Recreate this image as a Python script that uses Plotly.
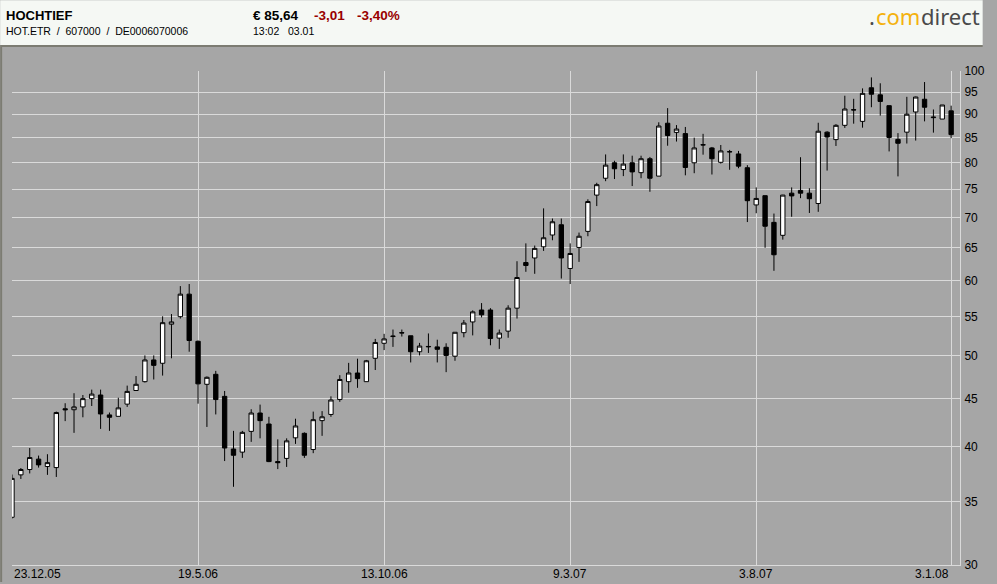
import numpy as np
import pandas as pd
import plotly.graph_objects as go

# weekly candles HOCHTIEF, 23.12.05 - 3.1.08
dates = pd.date_range("2005-12-23", periods=107, freq="7D")

opens = [33.7, 37.37, 37.86, 38.83, 38.14, 38.04, 43.9, 43.8, 44.1, 45.0,
         45.4, 43.25, 43.1, 44.4, 45.9, 46.9, 49.45, 49.05, 53.95, 54.95,
         58.05, 51.75, 46.6, 47.75, 45.25, 39.8, 39.5, 41.55, 43.45, 42.3,
         38.6, 38.9, 40.9, 41.35, 39.75, 42.65, 43.3, 44.9, 46.9, 47.9,
         46.9, 49.65, 51.5, 52.35, 52.8, 52.45, 50.45, 51.05, 51.05, 51.0,
         49.9, 52.85, 54.25, 55.85, 55.85, 52.15, 53.05, 56.1, 62.7, 63.4,
         65.15, 67.05, 68.75, 61.8, 65.05, 67.65, 73.9, 77.0, 79.95, 78.65,
         79.95, 78.05, 80.75, 77.4, 88.05, 86.1, 85.85, 79.95, 83.5, 82.9,
         80.05, 82.1, 81.7, 79.0, 72.15, 73.8, 69.15, 67.0, 74.25, 74.75,
         74.25, 72.4, 86.15, 84.6, 87.6, 91.0, 88.45, 96.0, 94.35, 91.9,
         84.65, 86.15, 90.5, 93.35, 89.25, 88.95, 90.75]
highs = [37.4, 38.0, 39.9, 39.17, 39.3, 43.6, 44.5, 45.6, 45.4, 46.0,
         46.0, 43.5, 45.1, 46.45, 47.55, 50.0, 50.0, 55.0, 55.3, 59.2,
         59.5, 51.85, 47.5, 48.15, 45.85, 41.6, 41.6, 43.85, 44.35, 43.05,
         40.75, 40.85, 42.85, 41.45, 43.6, 43.65, 45.25, 47.65, 49.1, 49.6,
         49.45, 52.05, 52.7, 53.25, 53.25, 52.45, 51.55, 52.75, 51.95, 51.5,
         52.9, 54.5, 55.8, 56.8, 56.1, 53.25, 56.5, 62.9, 65.7, 65.35,
         71.55, 69.8, 69.8, 65.7, 67.45, 73.15, 76.15, 81.6, 80.35, 81.6,
         81.35, 81.35, 81.1, 88.25, 91.35, 87.65, 87.25, 85.0, 85.8, 83.1,
         83.5, 82.5, 82.3, 79.5, 75.3, 73.8, 70.65, 73.95, 75.3, 81.05,
         75.15, 88.15, 86.35, 87.85, 94.15, 93.45, 95.85, 98.45, 97.05, 91.9,
         85.95, 93.9, 93.95, 97.35, 91.05, 92.05, 91.9]
lows = [33.6, 37.0, 37.5, 38.04, 37.37, 37.18, 42.6, 41.4, 43.0, 44.2,
        41.8, 41.6, 43.1, 44.1, 45.9, 46.8, 47.15, 47.6, 49.65, 54.7,
        50.45, 44.45, 42.0, 43.3, 38.65, 36.3, 38.95, 40.5, 40.85, 38.55,
        37.9, 38.1, 40.3, 38.95, 39.4, 41.1, 43.05, 44.65, 45.65, 46.2,
        46.9, 48.25, 50.65, 51.05, 52.35, 49.15, 50.0, 50.3, 49.15, 48.0,
        49.35, 52.25, 52.5, 54.85, 51.25, 50.8, 52.2, 54.7, 61.3, 61.0,
        64.5, 66.2, 60.3, 59.5, 62.8, 66.85, 71.95, 76.45, 76.85, 77.4,
        75.55, 77.0, 74.5, 77.4, 83.35, 84.2, 77.55, 77.95, 81.55, 77.7,
        79.8, 78.6, 78.9, 69.2, 70.7, 65.0, 61.45, 66.3, 70.1, 73.35,
        70.75, 70.95, 78.45, 83.3, 87.05, 87.95, 87.1, 91.55, 89.7, 82.2,
        77.35, 83.8, 84.4, 88.45, 86.05, 88.95, 84.9]
closes = [37.05, 37.86, 38.98, 38.29, 38.5, 43.5, 43.8, 44.1, 45.0, 45.5,
          43.35, 43.0, 44.0, 45.8, 46.6, 49.45, 48.8, 54.15, 54.25, 58.05,
          51.85, 46.65, 47.4, 44.9, 39.9, 39.2, 41.45, 43.45, 42.65, 38.6,
          38.5, 40.6, 42.1, 39.2, 42.75, 43.05, 44.85, 47.15, 47.9, 47.25,
          49.35, 51.6, 52.05, 52.4, 52.85, 50.45, 51.15, 51.1, 50.75, 50.0,
          52.9, 54.1, 55.6, 55.2, 52.1, 52.8, 56.1, 60.45, 62.25, 64.9,
          66.6, 69.25, 63.4, 64.1, 66.85, 72.75, 75.8, 79.5, 78.8, 79.7,
          78.2, 80.75, 77.0, 87.45, 85.45, 86.8, 79.05, 82.9, 83.55, 80.75,
          82.3, 82.15, 79.3, 72.9, 73.3, 68.5, 63.9, 73.9, 73.75, 74.25,
          73.25, 86.35, 85.15, 87.6, 91.15, 90.95, 94.7, 94.5, 92.85, 85.05,
          83.85, 90.0, 93.85, 91.55, 89.35, 92.05, 85.64]

tick_idx = [0, 21, 42, 63, 84, 106]
tick_text = ["23.12.05", "19.5.06", "13.10.06", "9.3.07", "3.8.07", "3.1.08"]
y_ticks = list(range(30, 101, 5))

W, H = 997, 584
L, R, T, B = 12, 974, 71, 567
GREY = "#a6a6a6"
GRID = "#dadada"
FONT = "Liberation Sans"


def px(x):
    return (x - L) / (R - L)


def py(y):
    return (B - y) / (B - T)


fig = go.Figure(go.Candlestick(
    x=dates, open=opens, high=highs, low=lows, close=closes,
    increasing=dict(line=dict(color="black", width=1), fillcolor="white"),
    decreasing=dict(line=dict(color="black", width=1), fillcolor="black"),
    whiskerwidth=0, hoverinfo="skip",
))

fig.update_layout(
    width=W, height=H, autosize=False,
    margin=dict(l=L, r=W - R, t=T, b=H - B, pad=0),
    paper_bgcolor=GREY, plot_bgcolor=GREY,
    showlegend=False,
    xaxis=dict(
        type="date",
        range=[dates[0], dates[0] + pd.Timedelta(days=749)],
        tickvals=[dates[i] for i in tick_idx],
        showticklabels=False, ticks="",
        showgrid=True, gridcolor=GRID, gridwidth=1,
        showline=True, linecolor=GRID, linewidth=1,
        zeroline=False, rangeslider=dict(visible=False), fixedrange=True,
    ),
    yaxis=dict(
        type="log", side="right",
        range=[np.log10(30), np.log10(100)],
        tickvals=y_ticks, ticktext=[str(v) for v in y_ticks],
        tickfont=dict(family=FONT, size=12, color="black"),
        ticks="", ticklabelstandoff=1,
        showgrid=True, gridcolor=GRID, gridwidth=1,
        showline=True, linecolor=GRID, linewidth=1,
        zeroline=False, fixedrange=True,
    ),
)

# header band, separator and left frame
fig.add_shape(type="rect", xref="paper", yref="paper",
              x0=px(0), x1=px(W), y0=py(45), y1=py(0),
              fillcolor="#f5f8f4", line_width=0)
fig.add_shape(type="rect", xref="paper", yref="paper",
              x0=px(0), x1=px(W), y0=py(47), y1=py(45),
              fillcolor="#7c7c72", line_width=0)
fig.add_shape(type="rect", xref="paper", yref="paper",
              x0=px(0), x1=px(2), y0=py(H), y1=py(47),
              fillcolor="#7c7c72", line_width=0)

# date labels under the vertical grid lines
for n, (i, txt) in enumerate(zip(tick_idx, tick_text)):
    anchor = "left" if n == 0 else ("right" if n == len(tick_idx) - 1 else "center")
    fig.add_annotation(x=dates[i], xref="x", y=py(576), yref="paper",
                       text=txt, showarrow=False, xanchor=anchor, yanchor="middle",
                       font=dict(family=FONT, size=12, color="black"))

def head(x, y, text, size, color="black", family=FONT):
    fig.add_annotation(x=px(x), y=py(y), xref="paper", yref="paper",
                       text=text, showarrow=False, xanchor="left", yanchor="middle",
                       font=dict(family=family, size=size, color=color))

head(4, 15, "<b>HOCHTIEF</b>", 13)
head(4, 31, "HOT.ETR  /  607000  /  DE0006070006", 10.5)
head(255, 15, "<b>€ 85,64</b>", 13.5)
head(316, 15, "<b>-3,01</b>", 13.5, "#990000")
head(360, 15, "<b>-3,40%</b>", 13.5, "#990000")
head(255, 31, "13:02   03.01", 10.5)

# logo, drawn as three pieces so each colour part is measured on its own
head(880, 16, ".", 22, "#4a4a4a", "Noto Sans")
head(887, 16, "com", 22, "#f4b20f", "Noto Sans")
head(932, 16, "direct", 22, "#4a4a4a", "Noto Sans")

# page without margin or scrollbars; fixed-size figure, not resized to the window
js = ("document.documentElement.style.overflow='hidden';"
      "document.body.style.margin='0';"
      "document.body.style.overflow='hidden';")
fig.write_html("out.html", config={"displayModeBar": False, "responsive": False},
               post_script=js)
